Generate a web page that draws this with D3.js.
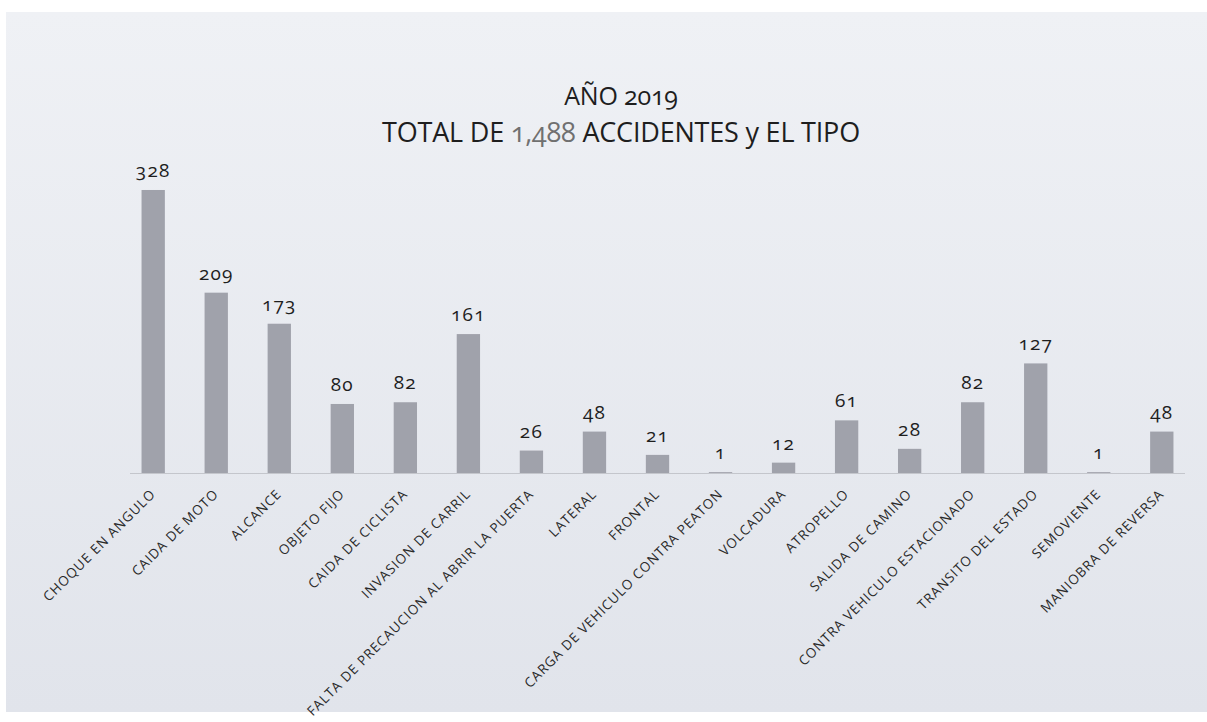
<!DOCTYPE html>
<html>
<head>
<meta charset="utf-8">
<script src="https://cdn.jsdelivr.net/npm/d3@7"></script>
<style>
  body{margin:0;background:#fff;}
  #grafico{width:1207px;height:722px;}
  text{font-family:"Open Sans","Noto Sans",sans-serif;fill:#1e1e1e;}
  .valor{font-size:19px;letter-spacing:1.2px;font-variant-numeric:oldstyle-nums;}
  .etiqueta{font-size:13.5px;letter-spacing:0.9px;fill:#2a2a2a;}
  .titulo{font-size:27px;font-variant-numeric:oldstyle-nums;letter-spacing:-0.2px;}
</style>
</head>
<body>
<div id="grafico"></div>
<script>
// datos del grafico
const tipos = ["CHOQUE EN ANGULO","CAIDA DE MOTO","ALCANCE","OBJETO FIJO","CAIDA DE CICLISTA",
  "INVASION DE CARRIL","FALTA DE PRECAUCION AL ABRIR LA PUERTA","LATERAL","FRONTAL",
  "CARGA DE VEHICULO CONTRA PEATON","VOLCADURA","ATROPELLO","SALIDA DE CAMINO",
  "CONTRA VEHICULO ESTACIONADO","TRANSITO DEL ESTADO","SEMOVIENTE","MANIOBRA DE REVERSA"];
const accidentes = [328,209,173,80,82,161,26,48,21,1,12,61,28,82,127,1,48];
const titulo1 = "AÑO 2019";
const titulo2 = ["TOTAL DE ", "1,488", " ACCIDENTES y EL TIPO"];

const W = 1207, H = 722;
const base = 473;

let svg = d3.select("#grafico")
  .append("svg")
    .attr("width", W)
    .attr("height", H);

// fondo (hoja escaneada)
let grad = svg.append("defs").append("linearGradient")
  .attr("id","fondo").attr("x1",0).attr("y1",0).attr("x2",0).attr("y2",1);
grad.append("stop").attr("offset","0%").attr("stop-color","#eff1f5");
grad.append("stop").attr("offset","100%").attr("stop-color","#e1e4eb");

svg.append("rect")
  .attr("x",6).attr("y",12)
  .attr("width",W-6).attr("height",H-22)
  .attr("fill","url(#fondo)");

// escalas
let x = d3.scaleBand()
  .domain(tipos)
  .range([122, 1193])
  .paddingInner(0.63)
  .paddingOuter(0.31);

let y = d3.scaleLinear()
  .domain([0, 350])
  .range([base, 171]);

// eje x (solo la linea)
svg.append("line")
  .attr("x1",130).attr("x2",1185)
  .attr("y1",base+0.5).attr("y2",base+0.5)
  .attr("stroke","#c4c6cc").attr("stroke-width",1.2);

// barras
svg.selectAll("rect.bar")
  .data(accidentes)
  .enter()
  .append("rect")
    .attr("class","bar")
    .attr("x",(d,i)=>x(tipos[i]))
    .attr("y",d=>y(d))
    .attr("width",x.bandwidth())
    .attr("height",d=>base-y(d))
    .attr("fill","#a0a2ab");

// valores
svg.selectAll("text.valor")
  .data(accidentes)
  .enter()
  .append("text")
    .attr("class","valor")
    .attr("x",(d,i)=>x(tipos[i])+x.bandwidth()/2)
    .attr("y",d=>y(d)-13)
    .attr("text-anchor","middle")
    .text(d=>d);

// etiquetas rotadas
svg.selectAll("text.etiqueta")
  .data(tipos)
  .enter()
  .append("text")
    .attr("class","etiqueta")
    .attr("text-anchor","end")
    .attr("transform",d=>`translate(${x(d)+x.bandwidth()/2+3},${base+22}) rotate(-45)`)
    .text(d=>d);

// titulo
svg.append("text")
  .attr("class","titulo")
  .attr("x",621).attr("y",105)
  .attr("text-anchor","middle")
  .style("font-size","25px")
  .text(titulo1);

let t2 = svg.append("text")
  .attr("class","titulo")
  .attr("x",621).attr("y",142)
  .attr("text-anchor","middle");
t2.append("tspan").text(titulo2[0]);
t2.append("tspan").style("fill","#707070").text(titulo2[1]);
t2.append("tspan").text(titulo2[2]);
</script>
</body>
</html>
